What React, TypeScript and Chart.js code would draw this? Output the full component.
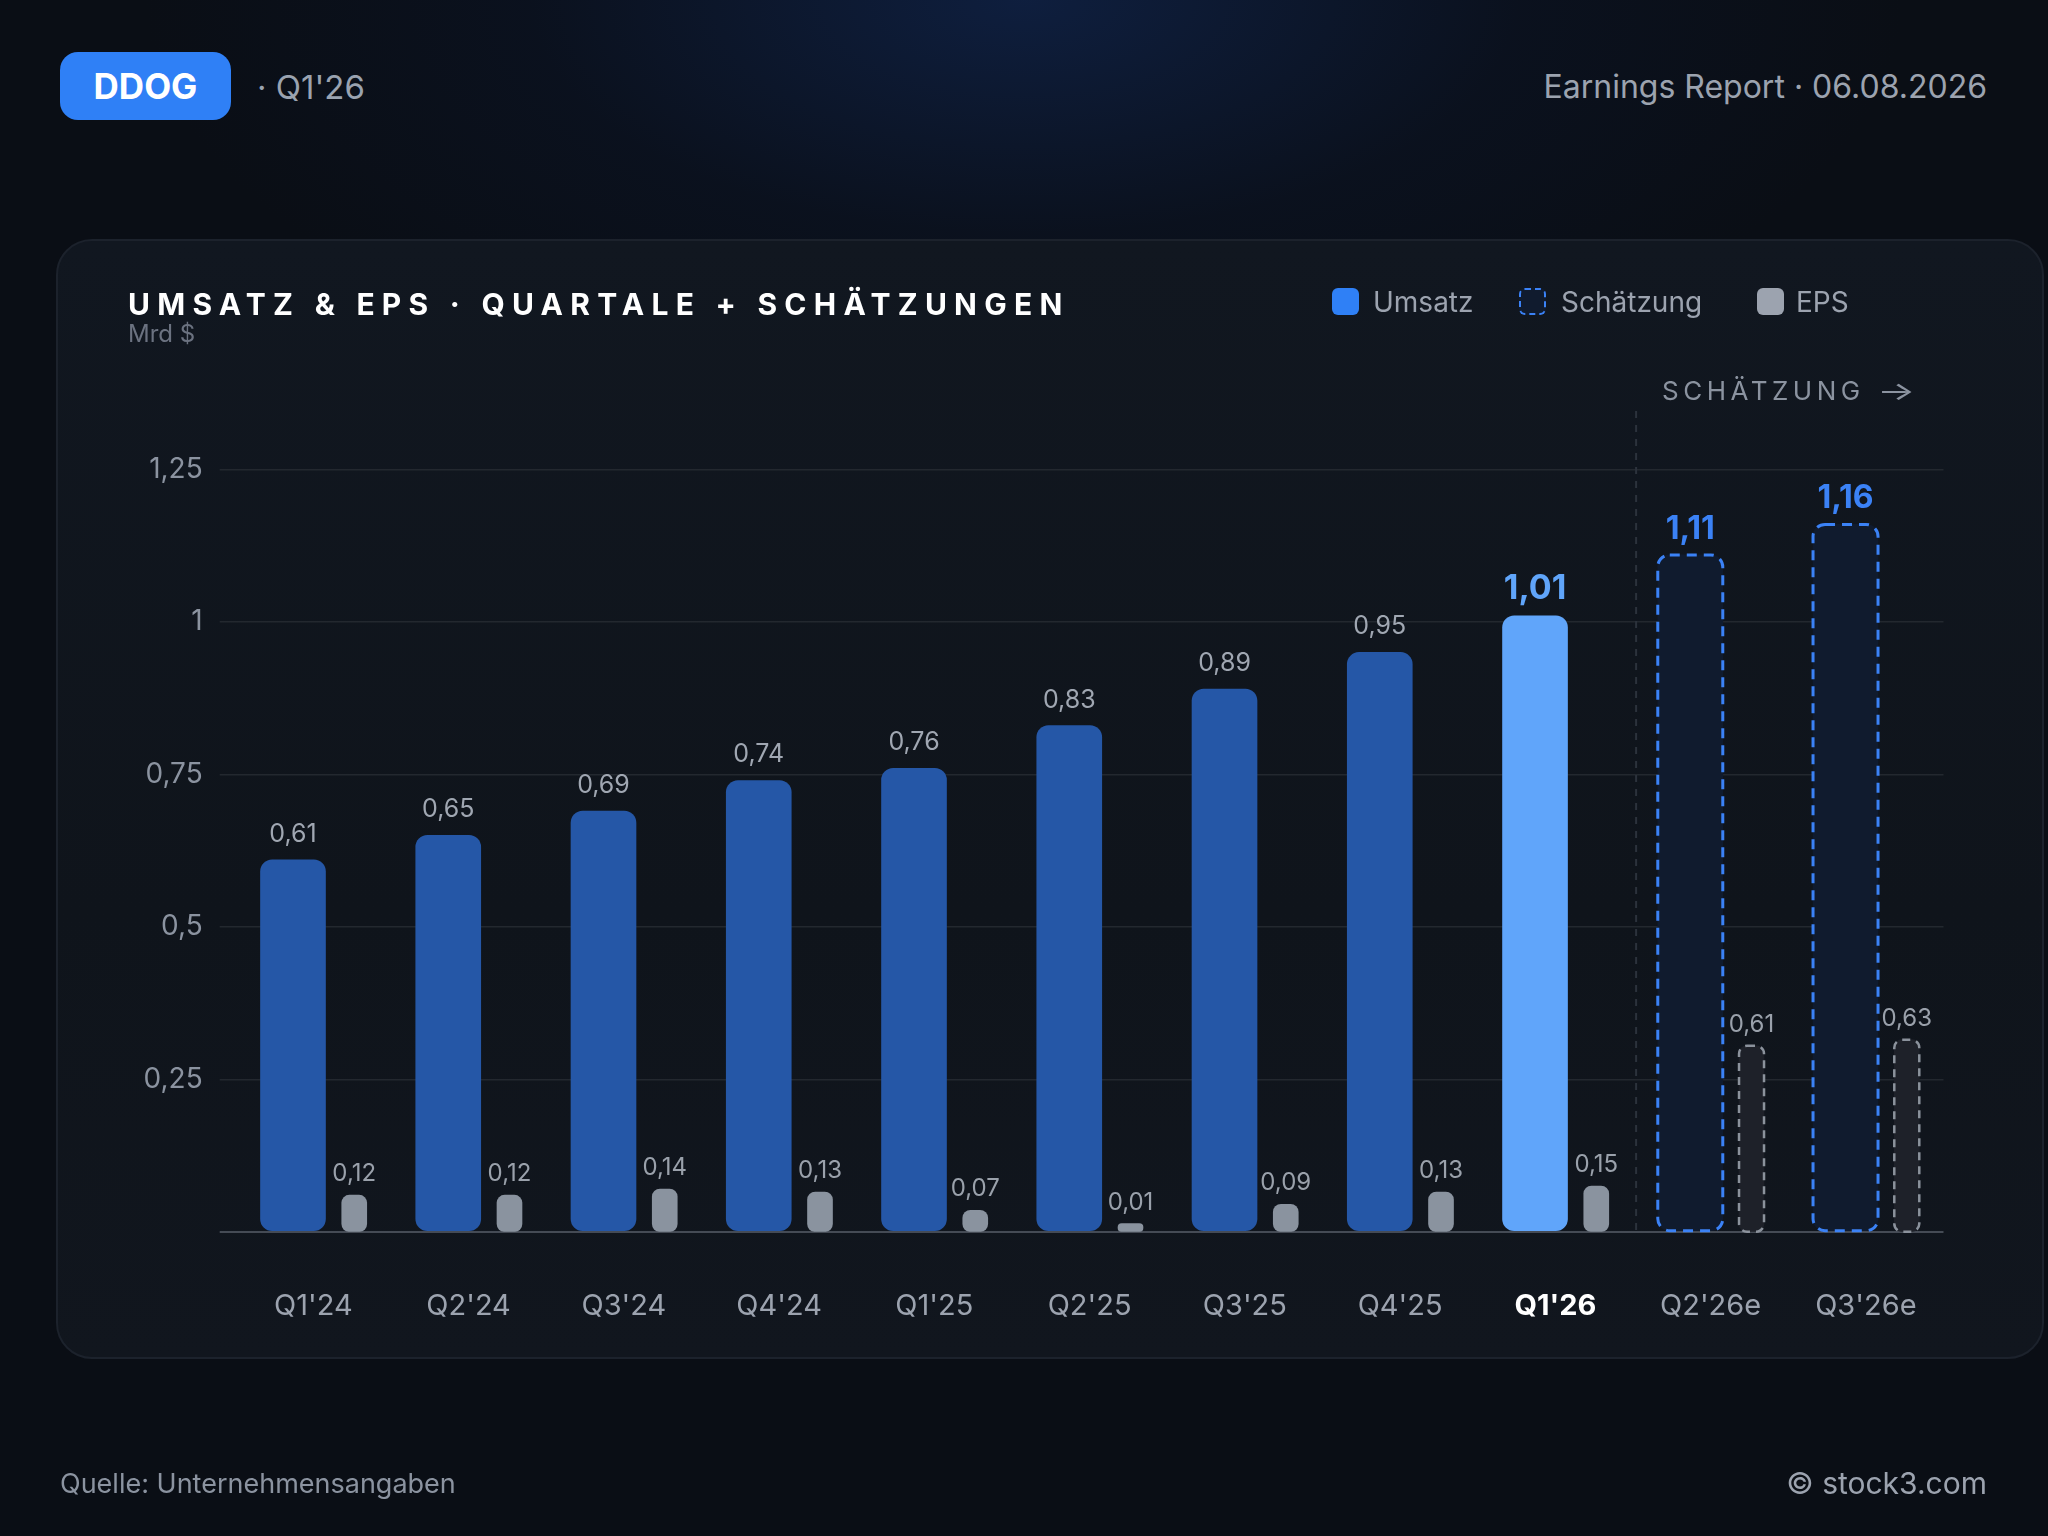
import React, { useEffect, useRef } from 'react';
import { Chart, registerables } from 'chart.js';

Chart.register(...registerables);

// ---- data ----
const quarters = ["Q1'24", "Q2'24", "Q3'24", "Q4'24", "Q1'25", "Q2'25", "Q3'25", "Q4'25", "Q1'26", "Q2'26e", "Q3'26e"];
const revenue = [0.61, 0.65, 0.69, 0.74, 0.76, 0.83, 0.89, 0.95, 1.01, 1.11, 1.16];
const eps = [0.12, 0.12, 0.14, 0.13, 0.07, 0.01, 0.09, 0.13, 0.15, 0.61, 0.63];
const yTicks = [0, 0.25, 0.5, 0.75, 1, 1.25];
const CURRENT = 8;
const FIRST_ESTIMATE = 9;

// ---- axis ranges / layout ----
const Y_MAX = 1.346;
const EPS_MAX = 2.692;
const REV_SHIFT = -0.131;
const EPS_SHIFT = 0.2635;
const SEPARATOR_SHIFT = 0.02;

const FONT = 'Inter, "Noto Sans", sans-serif';
const fmt = (v: number, digits = 0) =>
  v.toLocaleString('de-DE', { minimumFractionDigits: digits, maximumFractionDigits: 2 });

const overlayPlugin = {
  id: 'overlay',
  beforeDatasetsDraw(chart: any) {
    const { ctx, chartArea, scales } = chart;
    const x = scales.x.getPixelForValue(FIRST_ESTIMATE - 0.5 + SEPARATOR_SHIFT);
    ctx.save();
    ctx.strokeStyle = '#2c323c';
    ctx.lineWidth = 2;
    ctx.setLineDash([7, 7]);
    ctx.beginPath();
    ctx.moveTo(x, chartArea.top);
    ctx.lineTo(x, chartArea.bottom);
    ctx.stroke();
    ctx.restore();
  },
  afterDatasetsDraw(chart: any) {
    const ctx = chart.ctx as CanvasRenderingContext2D;
    const revMeta = chart.getDatasetMeta(0);
    const epsMeta = chart.getDatasetMeta(1);
    ctx.save();
    ctx.textAlign = 'center';
    ctx.textBaseline = 'alphabetic';
    revMeta.data.forEach((el: any, i: number) => {
      const { x, y, base, width } = el.getProps(['x', 'y', 'base', 'width'], true);
      if (i >= FIRST_ESTIMATE) {
        ctx.save();
        ctx.strokeStyle = '#3b82f6';
        ctx.lineWidth = 3;
        ctx.setLineDash([10, 7]);
        ctx.beginPath();
        (ctx as any).roundRect(x - width / 2, y, width, base - y, 12);
        ctx.stroke();
        ctx.restore();
      }
      let font = `400 25px ${FONT}`;
      let color = '#a0a7b2';
      let off = 18;
      if (i === CURRENT) {
        font = `700 34px ${FONT}`;
        color = '#60a5fa';
        off = 17;
      } else if (i >= FIRST_ESTIMATE) {
        font = `700 32px ${FONT}`;
        color = '#3b82f6';
        off = 16;
      }
      ctx.font = font;
      ctx.fillStyle = color;
      ctx.fillText(fmt(revenue[i], 2), x, y - off);
    });
    epsMeta.data.forEach((el: any, i: number) => {
      const { x, y, base, width } = el.getProps(['x', 'y', 'base', 'width'], true);
      if (i >= FIRST_ESTIMATE) {
        ctx.save();
        ctx.strokeStyle = '#8b929c';
        ctx.lineWidth = 2.5;
        ctx.setLineDash([8, 6]);
        ctx.beginPath();
        (ctx as any).roundRect(x - width / 2, y, width, base - y, 8);
        ctx.stroke();
        ctx.restore();
      }
      ctx.font = `400 24px ${FONT}`;
      ctx.fillStyle = '#9aa1ab';
      ctx.fillText(fmt(eps[i], 2), x, y - 14);
    });
    ctx.restore();
  },
};

function ChartCanvas() {
  const ref = useRef<HTMLCanvasElement | null>(null);
  useEffect(() => {
    if (!ref.current) return;
    const chart = new Chart(ref.current, {
      type: 'bar',
      data: {
        datasets: [
          {
            label: 'Umsatz',
            data: revenue.map((v, i) => ({ x: i + REV_SHIFT, y: v })),
            yAxisID: 'y',
            barThickness: 65,
            grouped: false,
            borderRadius: 12,
            borderSkipped: false,
            borderWidth: 0,
            backgroundColor: (c: any) =>
              c.dataIndex === CURRENT ? '#60a5fa' : c.dataIndex >= FIRST_ESTIMATE ? '#101b2e' : '#2557a7',
          } as any,
          {
            label: 'EPS',
            data: eps.map((v, i) => ({ x: i + EPS_SHIFT, y: v })),
            yAxisID: 'y2',
            barThickness: 25,
            grouped: false,
            borderRadius: 8,
            borderSkipped: false,
            borderWidth: 0,
            minBarLength: 8,
            backgroundColor: (c: any) => (c.dataIndex >= FIRST_ESTIMATE ? '#1e2129' : '#8a939f'),
          } as any,
        ],
      },
      options: {
        animation: false,
        responsive: false,
        devicePixelRatio: 1,
        layout: { padding: { left: 60, right: 104.5, top: 411, bottom: 204.3 } },
        plugins: { legend: { display: false }, tooltip: { enabled: false } },
        scales: {
          x: {
            type: 'linear',
            min: -0.5,
            max: quarters.length - 0.5,
            offset: false,
            afterBuildTicks: (ax: any) => {
              ax.ticks = quarters.map((_, i) => ({ value: i }));
            },
            afterFit: (ax: any) => {
              ax.height = 100;
            },
            grid: { display: false, drawTicks: false, offset: false },
            border: { display: false },
            ticks: {
              padding: 57,
              autoSkip: false,
              maxRotation: 0,
              callback: (v: any) => quarters[v] ?? '',
              color: (c: any) => (c.tick && c.tick.value === CURRENT ? '#ffffff' : '#9ca3af'),
              font: (c: any) => ({
                family: FONT,
                size: 29,
                weight: c.tick && c.tick.value === CURRENT ? 'bold' : 'normal',
              }),
            },
          } as any,
          y: {
            type: 'linear',
            position: 'left',
            min: 0,
            max: Y_MAX,
            afterBuildTicks: (ax: any) => {
              ax.ticks = yTicks.map((v) => ({ value: v }));
            },
            afterFit: (ax: any) => {
              ax.width = 175.7;
            },
            grid: {
              color: (c: any) => (c.tick && c.tick.value === 0 ? '#454b55' : '#23282f'),
              lineWidth: (c: any) => (c.tick && c.tick.value === 0 ? 2 : 1.5),
              drawTicks: true,
              tickLength: 16,
            },
            border: { display: false },
            ticks: {
              padding: 17,
              color: '#8b93a0',
              font: { family: FONT, size: 28 },
              callback: (v: any) => (v === 0 ? '' : fmt(v)),
            },
          } as any,
          y2: { type: 'linear', display: false, min: 0, max: EPS_MAX } as any,
        },
      } as any,
      plugins: [overlayPlugin as any],
    });
    return () => chart.destroy();
  }, []);
  return (
    <canvas
      ref={ref}
      width={2048}
      height={1536}
      style={{ position: 'absolute', left: 0, top: 0, width: 2048, height: 1536 }}
    />
  );
}

const txt = (fs: number, center: number, extra: React.CSSProperties = {}): React.CSSProperties => ({
  position: 'absolute',
  top: center - fs / 2,
  fontSize: fs,
  lineHeight: `${fs}px`,
  fontFamily: FONT,
  whiteSpace: 'nowrap',
  ...extra,
});

function Swatch({ left, style }: { left: number; style: React.CSSProperties }) {
  return (
    <div
      style={{
        position: 'absolute',
        left,
        top: 288,
        width: 27,
        height: 27,
        borderRadius: 6,
        boxSizing: 'border-box',
        ...style,
      }}
    />
  );
}

export default function App() {
  return (
    <div
      style={{
        position: 'fixed',
        left: 0,
        top: 0,
        width: 2048,
        height: 1536,
        overflow: 'hidden',
        fontFamily: FONT,
        background:
          'radial-gradient(ellipse 1100px 520px at 50% 0%, rgba(18,44,96,0.55) 0%, rgba(12,26,56,0.25) 45%, rgba(10,14,21,0) 80%), #0a0e15',
      }}
    >
      {/* header */}
      <div
        style={{
          position: 'absolute',
          left: 60,
          top: 52,
          width: 171,
          height: 68,
          borderRadius: 18,
          background: '#2f80f6',
          color: '#fff',
          fontWeight: 700,
          fontSize: 35,
          display: 'flex',
          alignItems: 'center',
          justifyContent: 'center',
          fontFamily: FONT,
        }}
      >
        DDOG
      </div>
      <div style={txt(33, 87, { left: 257, color: '#9aa3b0' })}>· Q1'26</div>
      <div style={txt(32, 87, { right: 61, color: '#9ca3af' })}>Earnings Report · 06.08.2026</div>

      {/* card */}
      <div
        style={{
          position: 'absolute',
          left: 56,
          top: 239,
          width: 1988,
          height: 1120,
          borderRadius: 36,
          boxSizing: 'border-box',
          border: '2px solid #1c222c',
          background: 'linear-gradient(180deg, #111720 0%, #0f141b 60%, #11161e 100%)',
        }}
      />

      <ChartCanvas />

      {/* title & legend */}
      <div style={txt(30, 304, { left: 128, color: '#ffffff', fontWeight: 700, letterSpacing: 7.25 })}>
        UMSATZ &amp; EPS · QUARTALE + SCHÄTZUNGEN
      </div>
      <div style={txt(24, 334, { left: 128, color: '#6b7280' })}>Mrd $</div>

      <Swatch left={1332} style={{ background: '#2f80f6' }} />
      <div style={txt(28, 302, { left: 1373, color: '#9ca3af' })}>Umsatz</div>
      <Swatch left={1519} style={{ background: '#101b2e', border: '2px dashed #3b82f6' }} />
      <div style={txt(28, 302, { left: 1561, color: '#9ca3af' })}>Schätzung</div>
      <Swatch left={1757} style={{ background: '#9ca3af' }} />
      <div style={txt(28, 302, { left: 1796, color: '#9ca3af' })}>EPS</div>

      <div style={txt(26, 391, { left: 1662, color: '#8b93a0', letterSpacing: 4.5 })}>
        SCHÄTZUNG{' '}
        <span style={{ display: 'inline-block', transform: 'scaleX(1.55)', transformOrigin: 'left center' }}>→</span>
      </div>

      {/* footer */}
      <div style={txt(27, 1483, { left: 60, color: '#8b93a0' })}>Quelle: Unternehmensangaben</div>
      <div style={txt(30, 1483, { right: 61, color: '#9ca3af' })}>© stock3.com</div>
    </div>
  );
}
